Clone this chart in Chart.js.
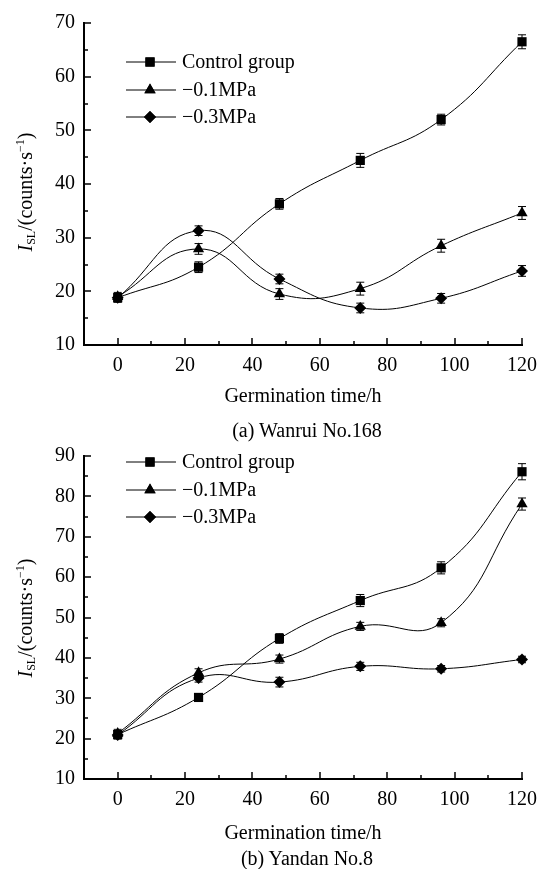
<!DOCTYPE html>
<html><head><meta charset="utf-8">
<script src="https://cdn.jsdelivr.net/npm/chart.js@4/dist/chart.umd.min.js"></script>
<style>
html,body{margin:0;padding:0;background:#fff;}
body{width:546px;height:869px;position:relative;overflow:hidden;font-family:'Liberation Serif','Times New Roman',serif;color:#000;}
.box{position:absolute;left:0;width:546px;}
.ytitle{position:absolute;font-size:20px;white-space:nowrap;transform:translate(-50%,-50%) rotate(-90deg);line-height:1;}
.ytitle sub{font-size:12px;vertical-align:-3px;}
.ytitle sup{font-size:12px;vertical-align:8px;}
.cap{position:absolute;font-size:20px;transform:translate(-50%,-50%);white-space:nowrap;line-height:1;}
</style></head><body>
<div class="box" style="top:0;height:440px"><canvas id="c1"></canvas></div>
<div class="box" style="top:435px;height:434px"><canvas id="c2"></canvas></div>
<div class="ytitle" style="left:25px;top:192px"><i>I</i><sub>SL</sub>/(counts·s<sup>−1</sup>)</div>
<div class="ytitle" style="left:25px;top:618px"><i>I</i><sub>SL</sub>/(counts·s<sup>−1</sup>)</div>
<div class="cap" style="left:307px;top:430px">(a) Wanrui No.168</div>
<div class="cap" style="left:307px;top:858px">(b) Yandan No.8</div>
<script>
// ---- data ----
const hours = [0, 24, 48, 72, 96, 120];
const seriesLabels = ['Control group', '\u22120.1MPa', '\u22120.3MPa'];
const xTickLabels = [0, 20, 40, 60, 80, 100, 120];
const xMinorTicks = [10, 30, 50, 70, 90, 110];

// (a) Wanrui No.168
const aControl = [18.8, 24.5, 36.3, 44.4, 52.0, 66.5];
const aMinus01 = [19.0, 27.9, 19.5, 20.5, 28.5, 34.6];
const aMinus03 = [18.8, 31.3, 22.3, 16.9, 18.7, 23.8];
const aControlErr = [0.8, 1.0, 1.0, 1.3, 1.0, 1.3];
const aMinus01Err = [0.8, 1.0, 1.0, 1.2, 1.2, 1.2];
const aMinus03Err = [0.8, 0.9, 0.9, 0.9, 0.9, 1.0];
const aYTicks = [10, 20, 30, 40, 50, 60, 70];
const aYMinor = [15, 25, 35, 45, 55, 65];

// (b) Yandan No.8
const bControl = [21.0, 30.2, 44.8, 54.2, 62.3, 86.1];
const bMinus01 = [21.3, 36.3, 39.7, 47.8, 48.7, 78.1];
const bMinus03 = [20.9, 35.0, 34.0, 37.9, 37.3, 39.6];
const bControlErr = [1.0, 0.8, 1.2, 1.5, 1.5, 2.0];
const bMinus01Err = [1.0, 1.0, 1.0, 1.0, 1.0, 1.5];
const bMinus03Err = [1.0, 1.0, 1.2, 1.0, 0.8, 0.8];
const bYTicks = [10, 20, 30, 40, 50, 60, 70, 80, 90];
const bYMinor = [15, 25, 35, 45, 55, 65, 75, 85];

const pointStyles = ['rect', 'triangle', 'rectRot'];
const pointSizes = [6.5, 6.5, 6];

Chart.defaults.font.family = "'Liberation Serif', 'Times New Roman', serif";
Chart.defaults.font.size = 20;
Chart.defaults.color = '#000';

const extras = {
  id: 'extras',
  afterDraw(chart, args, o) {
    const ctx = chart.ctx;
    const xs = chart.scales.x, ys = chart.scales.y;
    ctx.save();
    // error bars
    ctx.strokeStyle = '#000';
    ctx.lineWidth = 1;
    chart.data.datasets.forEach(ds => {
      ds.data.forEach((p, i) => {
        const e = ds.errors[i];
        const px = xs.getPixelForValue(p.x);
        const y1 = ys.getPixelForValue(p.y + e), y2 = ys.getPixelForValue(p.y - e);
        ctx.beginPath();
        ctx.moveTo(px, y1); ctx.lineTo(px, y2);
        ctx.moveTo(px - 4, y1); ctx.lineTo(px + 4, y1);
        ctx.moveTo(px - 4, y2); ctx.lineTo(px + 4, y2);
        ctx.stroke();
      });
    });
    // inward ticks
    ctx.lineWidth = 1.5;
    const b = ys.bottom, l = xs.left;
    ctx.beginPath();
    o.xMajor.forEach(v => { const px = Math.round(xs.getPixelForValue(v)); ctx.moveTo(px, b); ctx.lineTo(px, b - 7); });
    o.xMinor.forEach(v => { const px = Math.round(xs.getPixelForValue(v)); ctx.moveTo(px, b); ctx.lineTo(px, b - 4); });
    o.yMajor.forEach(v => { const py = Math.round(ys.getPixelForValue(v)); ctx.moveTo(l, py); ctx.lineTo(l + 7, py); });
    o.yMinor.forEach(v => { const py = Math.round(ys.getPixelForValue(v)); ctx.moveTo(l, py); ctx.lineTo(l + 4, py); });
    ctx.stroke();
    // legend
    ctx.font = "20px 'Liberation Serif', 'Times New Roman', serif";
    ctx.textBaseline = 'middle';
    ctx.textAlign = 'left';
    chart.data.datasets.forEach((ds, i) => {
      const y = o.legendY[i];
      ctx.lineWidth = 1;
      ctx.beginPath();
      ctx.moveTo(o.legendX, y); ctx.lineTo(o.legendX + 50, y);
      ctx.stroke();
      ctx.fillStyle = '#000';
      Chart.helpers.drawPoint(ctx, {pointStyle: ds.pointStyle, radius: ds.pointRadius, rotation: 0, borderWidth: 0}, o.legendX + 24, y);
      ctx.fill();
      ctx.fillText(ds.label, o.legendX + 56, y + 1);
    });
    ctx.restore();
  }
};

function makeDatasets(vals, errs) {
  return vals.map((v, k) => ({
    label: seriesLabels[k],
    data: hours.map((h, i) => ({x: h, y: v[i]})),
    errors: errs[k],
    borderColor: '#000',
    borderWidth: 1,
    backgroundColor: '#000',
    pointStyle: pointStyles[k],
    pointRadius: pointSizes[k],
    pointBorderWidth: 0,
    pointBackgroundColor: '#000',
    tension: 0.45,
    clip: false
  }));
}

function makeChart(id, vals, errs, yMin, yMax, yTicks, yMinor, xAxisH, legendY, titlePadBottom, topPad) {
  return new Chart(document.getElementById(id), {
    type: 'line',
    data: {datasets: makeDatasets(vals, errs)},
    options: {
      responsive: true,
      maintainAspectRatio: false,
      animation: false,
      layout: {padding: {left: 0, right: 20, top: topPad, bottom: 0}},
      plugins: {
        legend: {display: false},
        tooltip: {enabled: false},
        extras: {xMajor: xTickLabels, xMinor: xMinorTicks, yMajor: yTicks, yMinor: yMinor, legendX: 126, legendY: legendY}
      },
      scales: {
        x: {
          type: 'linear', min: -10, max: 120,
          afterBuildTicks: s => { s.ticks = xTickLabels.map(v => ({value: v})); },
          afterFit: s => { s.height = xAxisH; },
          grid: {display: false, drawTicks: false},
          border: {display: true, color: '#000', width: 2},
          ticks: {padding: 9, maxRotation: 0, autoSkip: false, color: '#000'},
          title: {display: true, text: 'Germination time/h', color: '#000', font: {size: 20}, padding: {top: 0, bottom: titlePadBottom}}
        },
        y: {
          type: 'linear', min: yMin, max: yMax,
          afterBuildTicks: s => { s.ticks = yTicks.map(v => ({value: v})); },
          afterFit: s => { s.width = 84; },
          grid: {display: false, drawTicks: false},
          border: {display: true, color: '#000', width: 2},
          ticks: {padding: 9, autoSkip: false, color: '#000'}
        }
      }
    },
    plugins: [extras]
  });
}

makeChart('c1', [aControl, aMinus01, aMinus03], [aControlErr, aMinus01Err, aMinus03Err], 10, 70, aYTicks, aYMinor, 95, [62, 90, 117], 31, 23);
makeChart('c2', [bControl, bMinus01, bMinus03], [bControlErr, bMinus01Err, bMinus03Err], 10, 90, bYTicks, bYMinor, 90, [27, 55, 82], 23, 16);
</script>
</body></html>
